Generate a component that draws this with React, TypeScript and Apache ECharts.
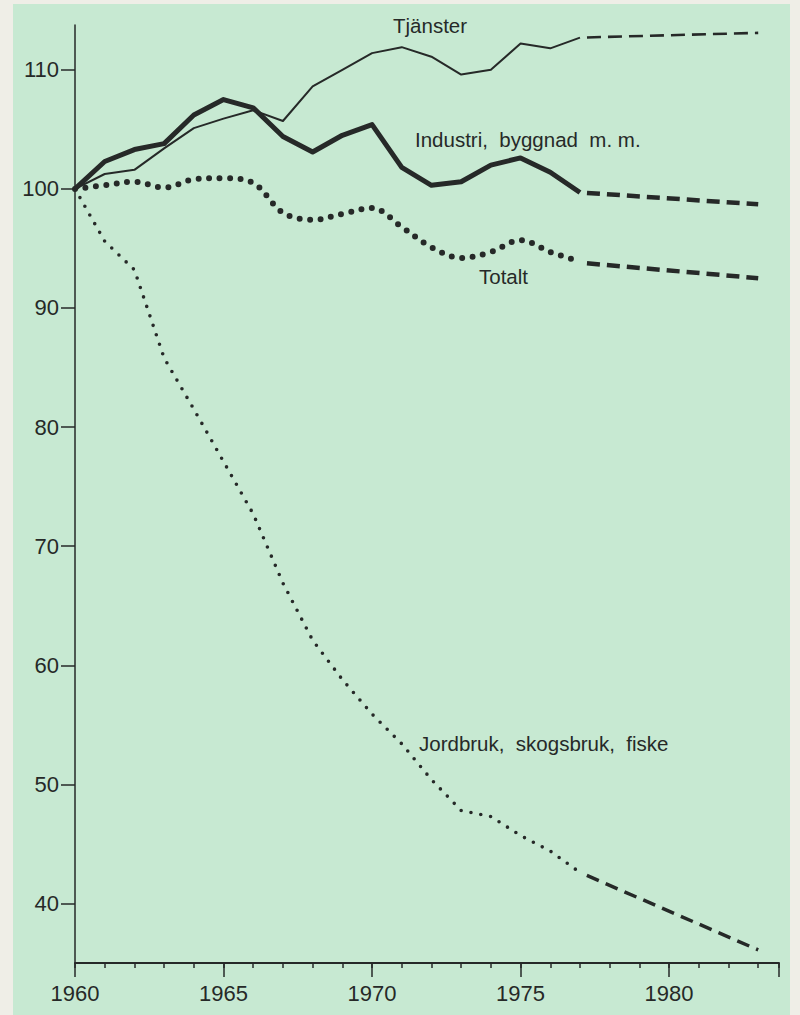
import React, { useEffect, useRef } from "react";
import * as echarts from "echarts";

const years = [1960, 1961, 1962, 1963, 1964, 1965, 1966, 1967, 1968, 1969, 1970, 1971, 1972, 1973, 1974, 1975, 1976, 1977];
const tjanster = [100, 101.25, 101.6, 103.4, 105.1, 105.9, 106.6, 105.7, 108.6, 110.0, 111.4, 111.9, 111.1, 109.6, 110.0, 112.2, 111.8, 112.7];
const industri = [100, 102.3, 103.3, 103.8, 106.2, 107.5, 106.8, 104.4, 103.1, 104.5, 105.4, 101.8, 100.3, 100.6, 102.0, 102.6, 101.4, 99.7];
const totalt = [100, 100.3, 100.6, 100.1, 100.8, 100.9, 100.5, 98.0, 97.4, 97.9, 98.4, 96.8, 95.1, 94.2, 94.7, 95.7, 94.7, 93.9];
const jordbruk = [100, 95.6, 93.2, 85.8, 81.5, 77.1, 72.7, 66.9, 62.1, 58.8, 55.9, 53.4, 50.4, 47.8, 47.3, 45.7, 44.4, 42.6];

const projYears = [1977, 1983];
const tjansterProj = [112.7, 113.1];
const industriProj = [99.7, 98.7];
const totaltProj = [93.8, 92.5];
const jordbrukProj = [42.6, 36.1];

const yTicks = [40, 50, 60, 70, 80, 90, 100, 110];
const labels = [
  { text: "Tjänster", x: 393, y: 25 },
  { text: "Industri,  byggnad  m. m.", x: 415, y: 139 },
  { text: "Totalt", x: 479, y: 276 },
  { text: "Jordbruk,  skogsbruk,  fiske", x: 419, y: 743 },
];

const INK = "#262928";
const FONT = "'Liberation Sans', Arial, Helvetica, sans-serif";

const pairs = (xs: number[], ys: number[]) => xs.map((x, i) => [x, ys[i]]);

export default function App() {
  const ref = useRef<HTMLDivElement>(null);
  useEffect(() => {
    if (!ref.current) return;
    const chart = echarts.init(ref.current, null, { renderer: "svg" });
    const line = (name: string, data: number[][], width: number, type: any, extra: any = {}) => ({
      type: "line",
      name,
      data,
      xAxisIndex: 0,
      showSymbol: false,
      symbol: "none",
      silent: true,
      lineStyle: { color: INK, width, type, join: "round", ...extra },
      ...(extra.smooth !== undefined ? { smooth: extra.smooth } : {}),
    });
    chart.setOption({
      animation: false,
      backgroundColor: "#efeee7",
      grid: { left: 75, right: 21, top: 25, bottom: 52 },
      graphic: [
        {
          type: "rect",
          z: -100,
          shape: { x: 13, y: 4, width: 777, height: 1011 },
          style: { fill: "#c7e9d2" },
        },
        ...labels.map((l) => ({
          type: "text",
          x: l.x,
          y: l.y,
          style: {
            text: l.text,
            fill: INK,
            font: `20.5px ${FONT}`,
            verticalAlign: "middle",
          },
        })),
      ],
      xAxis: [
        {
          type: "value",
          min: 1960,
          max: 1983.7,
          interval: 1,
          position: "bottom",
          splitLine: { show: false },
          axisLine: { show: true, lineStyle: { color: INK, width: 2 } },
          axisTick: { show: true, length: 5, lineStyle: { color: INK, width: 1.5 } },
          axisLabel: { show: false },
        },
        {
          type: "value",
          min: 1960,
          max: 1983.7,
          interval: 5,
          position: "bottom",
          splitLine: { show: false },
          axisLine: { show: false },
          axisTick: { show: true, length: 14, lineStyle: { color: INK, width: 1.5 } },
          axisLabel: {
            show: true,
            margin: 19,
            color: INK,
            fontSize: 22,
            fontFamily: FONT,
            verticalAlign: "top",
            formatter: (v: number) => (v % 5 === 0 && v <= 1980 ? String(v) : ""),
          },
        },
      ],
      yAxis: {
        type: "value",
        min: 35,
        max: 113.76,
        splitLine: { show: false },
        axisLine: { show: true, lineStyle: { color: INK, width: 1.5 } },
        axisTick: { show: true, length: 14, customValues: yTicks, lineStyle: { color: INK, width: 1.5 } },
        axisLabel: {
          show: true,
          customValues: yTicks,
          margin: 16,
          color: INK,
          fontSize: 22,
          fontFamily: FONT,
        },
      },
      series: [
        line("Jordbruk", pairs(years, jordbruk), 3.6, [0, 10], { cap: "round" }),
        line("Jordbruk prognos", pairs(projYears, jordbrukProj), 3.5, [13, 7.5], { dashOffset: 13 }),
        line("Totalt", pairs(years, totalt), 6, [0, 10.5], { cap: "round", smooth: 0.35 }),
        line("Totalt prognos", pairs(projYears, totaltProj), 4.5, [13, 7], { dashOffset: 13 }),
        line("Tjänster", pairs(years, tjanster), 2, "solid"),
        line("Tjänster prognos", pairs(projYears, tjansterProj), 2.6, [14, 7], { dashOffset: 14 }),
        line("Industri", pairs(years, industri), 5, "solid"),
        line("Industri prognos", pairs(projYears, industriProj), 4.5, [13, 7], { dashOffset: 13 }),
      ],
    });
    return () => chart.dispose();
  }, []);
  return (
    <div
      ref={ref}
      style={{ position: "absolute", left: 0, top: 0, width: 800, height: 1015 }}
    />
  );
}
